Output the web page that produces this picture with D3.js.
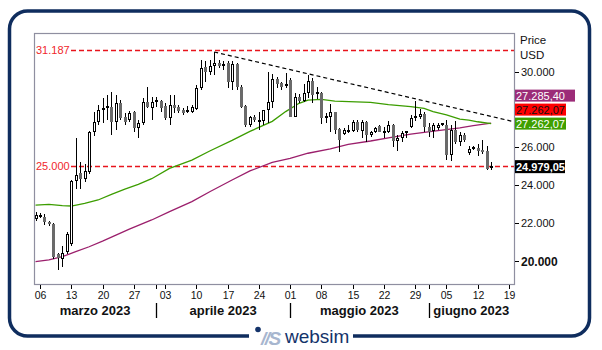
<!DOCTYPE html>
<html><head><meta charset="utf-8">
<script src="https://cdn.jsdelivr.net/npm/d3@7"></script>
<style>
body{margin:0;background:#fff}
svg{display:block;font-family:"Liberation Sans",Arial,sans-serif}
</style>
</head><body>
<svg id="chart" width="602" height="350"></svg>
<script>
// ---------- DATA ----------
const dates = ["2023-03-05","2023-03-06","2023-03-07","2023-03-08","2023-03-09","2023-03-10","2023-03-11","2023-03-12","2023-03-13","2023-03-14",
"2023-03-15","2023-03-16","2023-03-17","2023-03-18","2023-03-19","2023-03-20","2023-03-21","2023-03-22","2023-03-23","2023-03-24",
"2023-03-25","2023-03-26","2023-03-27","2023-03-28","2023-03-29","2023-03-30","2023-03-31","2023-04-01","2023-04-02","2023-04-03",
"2023-04-04","2023-04-05","2023-04-06","2023-04-07","2023-04-08","2023-04-09","2023-04-10","2023-04-11","2023-04-12","2023-04-13",
"2023-04-14","2023-04-15","2023-04-16","2023-04-17","2023-04-18","2023-04-19","2023-04-20","2023-04-21","2023-04-22","2023-04-23",
"2023-04-24","2023-04-25","2023-04-26","2023-04-27","2023-04-28","2023-04-29","2023-04-30","2023-05-01","2023-05-02","2023-05-03",
"2023-05-04","2023-05-05","2023-05-06","2023-05-07","2023-05-08","2023-05-09","2023-05-10","2023-05-11","2023-05-12","2023-05-13",
"2023-05-14","2023-05-15","2023-05-16","2023-05-17","2023-05-18","2023-05-19","2023-05-20","2023-05-21","2023-05-22","2023-05-23",
"2023-05-24","2023-05-25","2023-05-26","2023-05-27","2023-05-28","2023-05-29","2023-05-30","2023-05-31","2023-06-01","2023-06-02",
"2023-06-03","2023-06-04","2023-06-05","2023-06-06","2023-06-07","2023-06-08","2023-06-09","2023-06-10","2023-06-11","2023-06-12",
"2023-06-13","2023-06-14","2023-06-15"];
const opens = [22180,22380,22330,22040,21950,20350,20100,20440,20880,24200,
24650,24350,24670,26800,27360,27990,28100,28130,27360,28340,
27630,27450,27900,27010,27270,28430,28110,28440,28470,28200,
27580,28250,28150,27990,27880,27900,28020,29140,30240,29990,
30300,30470,30340,30470,29460,30440,29230,28200,27190,27600,
27440,27420,27990,28400,29620,29400,29360,29580,27630,28700,
28480,28870,29530,28820,28870,27540,27630,27860,26970,26690,
26830,26870,27330,26870,27360,26650,26800,27140,26840,26800,
27190,26350,26480,26740,27100,27630,27630,27770,27100,26870,
27050,27220,27190,25590,26920,26300,26650,25710,25900,25970,
25840,25800,24990];
const highs = [22570,22520,22480,22100,21980,20400,20790,21500,24260,26480,
25230,25130,26870,27900,28250,28610,28790,28960,28790,28520,
27810,27950,27950,27450,28610,29180,28700,28700,28520,28340,
28790,28790,28250,28080,28200,28250,29320,30650,30600,30650,
31060,30650,30600,30560,30560,30500,29320,28250,27690,27720,
27900,27990,29990,29890,29760,29490,29940,29670,28870,28840,
29350,29850,29670,29200,28960,27810,28290,27860,27040,27010,
27190,27450,27450,27450,27400,26890,27100,27190,27100,27400,
27240,26650,26890,26890,27720,28470,28020,27900,27300,27300,
27270,27310,27450,27190,27400,26800,26740,26060,26060,26170,
26390,26060,25200];
const lows = [22110,22250,21900,21850,20080,19500,19640,20350,20790,23810,
23780,24170,24610,26620,27190,27280,27450,26650,26920,27450,
27190,27360,26830,26480,27190,28070,27450,28160,27900,27450,
27190,27810,27810,27720,27810,27810,27990,29050,29460,29820,
29850,30200,30120,29140,29050,29050,28070,27100,27100,27360,
26920,27190,27270,28080,29140,29050,29140,27630,27630,28340,
28430,28610,28340,28570,27240,27270,26800,26690,25730,26650,
26740,26800,26830,26510,26300,26570,26740,26800,26480,26740,
26030,25800,26300,26480,27010,27400,27500,26800,26570,26480,
26920,27140,25320,25270,26170,26080,26260,25590,25840,25540,
25640,24790,24790];
const closes = [22430,22340,22040,21930,20170,20140,20400,21420,24200,24560,
24310,24740,26800,27360,27990,28110,28130,27360,28340,27540,
27360,27810,27010,27280,28430,28160,28400,28460,28080,27580,
28250,28110,27930,27810,27920,28160,29140,30210,29990,30330,
30470,30300,30360,29460,30440,29230,28160,27190,27600,27450,
27420,27990,28400,29620,29350,29230,29330,27630,28660,28480,
28870,29530,28790,28930,27540,27680,27900,26920,26390,26920,
26920,27330,26920,27360,26650,26800,27010,26830,26830,27190,
26350,26480,26740,26800,27580,27620,27770,27100,26800,27190,
27190,27230,25590,26920,26260,26650,26390,25940,25950,25800,
25730,24880,24979.05];

// moving averages
const greenDates = ["2023-03-05","2023-03-08","2023-03-11","2023-03-13","2023-03-16","2023-03-19","2023-03-22","2023-03-25","2023-03-28","2023-03-31",
"2023-04-04","2023-04-09","2023-04-13","2023-04-18","2023-04-22","2023-04-27","2023-04-30","2023-05-03","2023-05-05","2023-05-08",
"2023-05-11","2023-05-19","2023-05-23","2023-05-28","2023-05-31","2023-06-02","2023-06-05","2023-06-08","2023-06-10","2023-06-12","2023-06-15"];
const greenValues = [22940,22980,22910,22890,23030,23210,23510,23790,24040,24340,
24890,25330,25810,26370,26850,27380,27900,28340,28510,28550,
28460,28390,28270,28160,28070,27900,27720,27500,27450,27360,27262.07];
const purpleDates = ["2023-03-05","2023-03-08","2023-03-11","2023-03-14","2023-03-17","2023-03-20","2023-03-23","2023-03-26","2023-03-31","2023-04-04",
"2023-04-09","2023-04-13","2023-04-18","2023-04-22","2023-04-27","2023-05-01","2023-05-05","2023-05-10","2023-05-14","2023-05-19",
"2023-05-23","2023-05-28","2023-05-31","2023-06-04","2023-06-08","2023-06-11","2023-06-15"];
const purpleValues = [19940,20030,20200,20470,20730,21030,21350,21660,22150,22590,
23120,23650,24270,24750,25210,25420,25690,25920,26160,26340,
26510,26700,26800,26920,27040,27150,27285.40];

// trend line (two anchor points)
const trendDates = ["2023-04-14","2023-06-20"];
const trendValues = [31060,27370];

// horizontal levels
const levelValues = [31187,25000];

// right side value labels (purple, red, green) and last price
const sideValues = [27285.40,27262.07,27262.07];
const lastPrice = 24979.05;

// axes
const yTickValues = [20000,22000,24000,26000,30000];
const xTickDates = ["2023-03-06","2023-03-13","2023-03-20","2023-03-27","2023-04-03","2023-04-10","2023-04-17","2023-04-24",
"2023-05-01","2023-05-08","2023-05-15","2023-05-22","2023-05-29","2023-06-05","2023-06-12","2023-06-19"];
const monthStarts = ["2023-04-01","2023-05-01","2023-06-01"];
const monthNames = ["marzo 2023","aprile 2023","maggio 2023","giugno 2023"];

// ---------- DRAW ----------
const W = 602, H = 350;
const P = {l:34, r:514, t:33, b:284};
const svg = d3.select("#chart");
const loc = d3.formatLocale({decimal:",", thousands:".", grouping:[3], currency:["",""]});
const fInt = loc.format(",.0f");
const fDec = loc.format(",.2f");
const pd = s => new Date(s + "T00:00:00Z");

const x = d3.scaleUtc().domain([pd("2023-03-06"), pd("2023-06-19")]).range([40, 509]);
const y = d3.scaleLinear().domain([20000, 30000]).range([260.5, 72]);

svg.append("rect").attr("width", W).attr("height", H).attr("fill", "#fff");

// outer frame
svg.append("rect").attr("x", 9.5).attr("y", 11).attr("width", 580).attr("height", 325)
  .attr("rx", 18).attr("fill", "none").attr("stroke", "#0f2d5e").attr("stroke-width", 3.5);

// logo
svg.append("rect").attr("x", 249).attr("y", 328).attr("width", 104).attr("height", 14).attr("fill", "#fff");
svg.append("circle").attr("cx", 258).attr("cy", 329.5).attr("r", 2.8).attr("fill", "#14336a");
svg.append("text").attr("x", 261).attr("y", 344.5).attr("font-size", 19).attr("font-style", "italic")
  .attr("font-weight", "bold").attr("fill", "#a7b6cf").attr("letter-spacing", -1.5).text("//S");
svg.append("text").attr("x", 285).attr("y", 343).attr("font-size", 19).attr("fill", "#14336a").text("websim");

// clip
svg.append("clipPath").attr("id", "clip").append("rect")
  .attr("x", P.l).attr("y", P.t).attr("width", P.r - P.l).attr("height", P.b - P.t);
const g = svg.append("g").attr("clip-path", "url(#clip)");

// level lines
levelValues.forEach(v => {
  const yy = Math.round(y(v)) + 0.5;
  g.append("line").attr("x1", 71).attr("x2", P.r).attr("y1", yy).attr("y2", yy)
    .attr("stroke", "#e8141c").attr("stroke-width", 1.3).attr("stroke-dasharray", "5,3");
  svg.append("text").attr("x", 36).attr("y", yy).attr("dy", "0.35em").attr("font-size", 11)
    .attr("fill", "#f0262b").text(fInt(v));
});

// moving averages
const line = d3.line().x(d => x(pd(d[0]))).y(d => y(d[1]));
g.append("path").datum(d3.zip(purpleDates, purpleValues)).attr("d", line)
  .attr("fill", "none").attr("stroke", "#9b1f6c").attr("stroke-width", 1.3);
g.append("path").datum(d3.zip(greenDates, greenValues)).attr("d", line)
  .attr("fill", "none").attr("stroke", "#3c9d00").attr("stroke-width", 1.3);

// trend line
g.append("path").datum(d3.zip(trendDates, trendValues)).attr("d", line)
  .attr("fill", "none").attr("stroke", "#000").attr("stroke-width", 1.2).attr("stroke-dasharray", "4,3");

// candles
const cg = g.append("g");
dates.forEach((d, i) => {
  const xc = Math.round(x(pd(d))) + 0.5;
  const o = opens[i], c = closes[i];
  cg.append("line").attr("x1", xc).attr("x2", xc)
    .attr("y1", Math.round(y(highs[i]))).attr("y2", Math.round(y(lows[i])))
    .attr("stroke", "#000").attr("stroke-width", 1);
  const yt = Math.round(y(Math.max(o, c))), yb = Math.round(y(Math.min(o, c)));
  if (yb - yt < 2) {
    cg.append("rect").attr("x", xc - 1.5).attr("y", Math.round(y(c)) - 1).attr("width", 3).attr("height", 2).attr("fill", "#000");
  } else if (c >= o) {
    cg.append("rect").attr("x", xc - 1).attr("y", yt + 0.5).attr("width", 2).attr("height", yb - yt - 1)
      .attr("fill", "#fff").attr("stroke", "#000").attr("stroke-width", 1);
  } else {
    cg.append("rect").attr("x", xc - 1.5).attr("y", yt).attr("width", 3).attr("height", yb - yt).attr("fill", "#6a6a6a");
  }
});

// plot border
svg.append("rect").attr("x", P.l + 0.5).attr("y", P.t + 0.5).attr("width", P.r - P.l).attr("height", P.b - P.t)
  .attr("fill", "none").attr("stroke", "#8f8fa0").attr("stroke-width", 1.2);

// y axis
const ya = svg.append("g");
yTickValues.forEach(v => {
  const yy = Math.round(y(v)) + 0.5;
  ya.append("line").attr("x1", P.r + 1).attr("x2", P.r + 5).attr("y1", yy).attr("y2", yy).attr("stroke", "#000");
  ya.append("text").attr("x", 521).attr("y", yy).attr("dy", "0.35em")
    .attr("font-size", v === 20000 ? 12 : 11).attr("font-weight", v === 20000 ? "bold" : "normal")
    .attr("fill", "#111").text(fInt(v));
});
svg.append("text").attr("x", 520).attr("y", 44).attr("font-size", 11.5).attr("fill", "#111").text("Price");
svg.append("text").attr("x", 520).attr("y", 59).attr("font-size", 11.5).attr("fill", "#111").text("USD");

// side labels
const boxH = 12, step = 14;
const greenY = y(sideValues[2]);
const sideStyles = [
  {fill:"#9c2c78", text:"#fff", w:60},
  {fill:"#ff0000", text:"#111", w:51},
  {fill:"#3f9f00", text:"#fff", w:51}
];
sideValues.forEach((v, i) => {
  const cy = greenY - (2 - i) * step;
  const s = sideStyles[i];
  svg.append("rect").attr("x", P.r + 1).attr("y", cy - boxH / 2).attr("width", s.w).attr("height", boxH).attr("fill", s.fill);
  svg.append("text").attr("x", P.r + 2).attr("y", cy).attr("dy", "0.36em").attr("font-size", 11)
    .attr("fill", s.text).text(fDec(v));
});
const lpY = y(lastPrice);
svg.append("rect").attr("x", P.r + 1).attr("y", lpY - 6.5).attr("width", 50).attr("height", 13).attr("fill", "#000");
svg.append("text").attr("x", P.r + 2).attr("y", lpY).attr("dy", "0.36em").attr("font-size", 11)
  .attr("font-weight", "bold").attr("fill", "#fff").text(fDec(lastPrice));

// x axis
const xa = svg.append("g");
const dayFmt = d3.utcFormat("%d");
xTickDates.forEach(d => {
  const xx = Math.round(x(pd(d))) + 0.5;
  xa.append("line").attr("x1", xx).attr("x2", xx).attr("y1", P.b + 1).attr("y2", P.b + 5).attr("stroke", "#000");
  xa.append("text").attr("x", xx).attr("y", 299).attr("text-anchor", "middle").attr("font-size", 10.5)
    .attr("fill", "#111").text(dayFmt(pd(d)));
});
const bounds = [P.l].concat(monthStarts.map(d => x(pd(d)))).concat([P.r]);
monthStarts.forEach(d => {
  const xx = Math.round(x(pd(d))) + 0.5;
  xa.append("line").attr("x1", xx).attr("x2", xx).attr("y1", P.b + 1).attr("y2", P.b + 5).attr("stroke", "#000");
  xa.append("line").attr("x1", xx).attr("x2", xx).attr("y1", 303).attr("y2", 318).attr("stroke", "#000").attr("stroke-width", 1.3);
});
monthNames.forEach((m, i) => {
  xa.append("text").attr("x", (bounds[i] + bounds[i + 1]) / 2).attr("y", 315).attr("text-anchor", "middle")
    .attr("font-size", 13).attr("font-weight", "bold").attr("fill", "#111").text(m);
});
</script>
</body></html>
